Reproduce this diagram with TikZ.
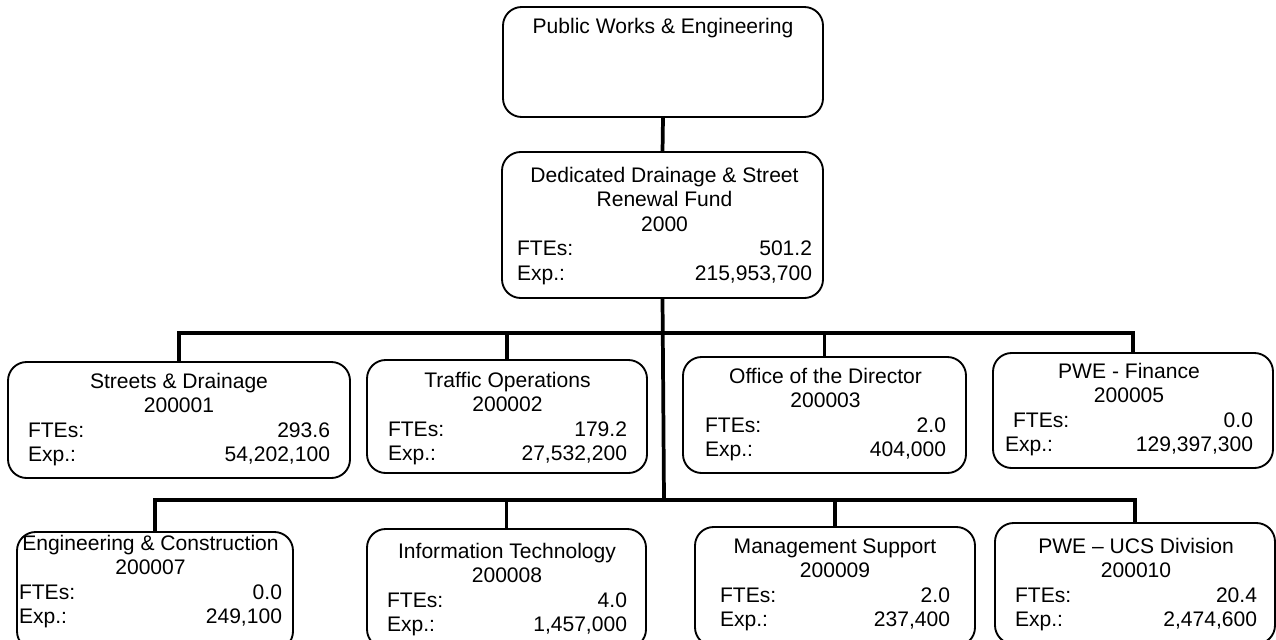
\documentclass[tikz,border=0pt]{standalone}
\usepackage{fontspec}
\setmainfont{Liberation Sans}
\newcommand\ttl[1]{\makebox[\linewidth][c]{#1}}
\newcommand\orgnode[9]{%
  \node[orgbox] (#1) at (#2,#3) {\hspace*{\dimexpr #7pt*3/4\relax}%
    \parbox[c][\dimexpr (#5pt-#3pt)*3/4\relax][t]{\dimexpr (#4pt-#2pt-#7pt-#8pt)*3/4\relax}{\centering\rule{0pt}{\dimexpr #6pt*3/4\relax}#9}%
    \hspace*{\dimexpr #8pt*3/4\relax}};}
\tikzset{
  orgbox/.style={draw=black, line width=1.4pt, rounded corners=14pt, inner sep=0pt, outer sep=0pt,
    font=\fontsize{15.8}{18.4}\selectfont, anchor=north west},
  conn/.style={draw=black, line width=2.8pt, line join=miter},
}
\begin{document}
\begin{tikzpicture}[x=0.75pt,y=-0.75pt]
\useasboundingbox (0,0) rectangle (1276,639);
\clip (0,0) rectangle (1276,639);
\orgnode{pwe}{503}{7}{823}{117}{26}{15}{15}{\ttl{Public Works \& Engineering}}
\orgnode{fund}{502}{152}{823}{298}{30}{15}{11}{\ttl{Dedicated Drainage \& Street}\\Renewal Fund\\2000\\FTEs:\hfill 501.2\\Exp.:\hfill 215,953,700}
\orgnode{streets}{8}{362}{350}{478}{26}{20}{20}{\ttl{Streets \& Drainage}\\200001\\FTEs:\hfill 293.6\\Exp.:\hfill 54,202,100}
\orgnode{traffic}{367}{360}{647}{473}{27}{21}{20}{\ttl{Traffic Operations}\\200002\\FTEs:\hfill 179.2\\Exp.:\hfill 27,532,200}
\orgnode{office}{683}{357}{966}{473}{26}{22}{20}{\ttl{Office of the Director}\\200003\\FTEs:\hfill 2.0\\Exp.:\hfill 404,000}
\orgnode{finance}{993}{353}{1273}{468}{25}{12}{20}{\ttl{PWE - Finance}\\200005\\\hspace*{6pt}FTEs:\hfill 0.0\\Exp.:\hfill 129,397,300}
\orgnode{eng}{17}{532}{293}{650}{18}{2}{11}{\ttl{Engineering \& Construction}\\200007\\FTEs:\hfill 0.0\\Exp.:\hfill 249,100}
\orgnode{it}{367}{529}{646}{648}{29}{20}{19}{\ttl{Information Technology}\\200008\\FTEs:\hfill 4.0\\Exp.:\hfill 1,457,000}
\orgnode{mgmt}{695}{527}{975}{646}{26}{25}{25}{\ttl{Management Support}\\200009\\FTEs:\hfill 2.0\\Exp.:\hfill 237,400}
\orgnode{ucs}{995}{523}{1275}{644}{30}{20}{18}{\ttl{PWE -- UCS Division}\\200010\\FTEs:\hfill 20.4\\Exp.:\hfill 2,474,600}
\coordinate (b1) at (664,333);
\coordinate (b2) at (664,500);
\draw[conn] (pwe.south) -- (fund.north);
\draw[conn] (fund.south) -- (b2);
\draw[conn] (streets.north) |- (b1) -| (finance.north);
\draw[conn] (traffic.north) -- (traffic.north |- b1);
\draw[conn] (office.north) -- (office.north |- b1);
\draw[conn] (eng.north) |- (b2) -| (ucs.north);
\draw[conn] (it.north) -- (it.north |- b2);
\draw[conn] (mgmt.north) -- (mgmt.north |- b2);
\end{tikzpicture}
\end{document}
